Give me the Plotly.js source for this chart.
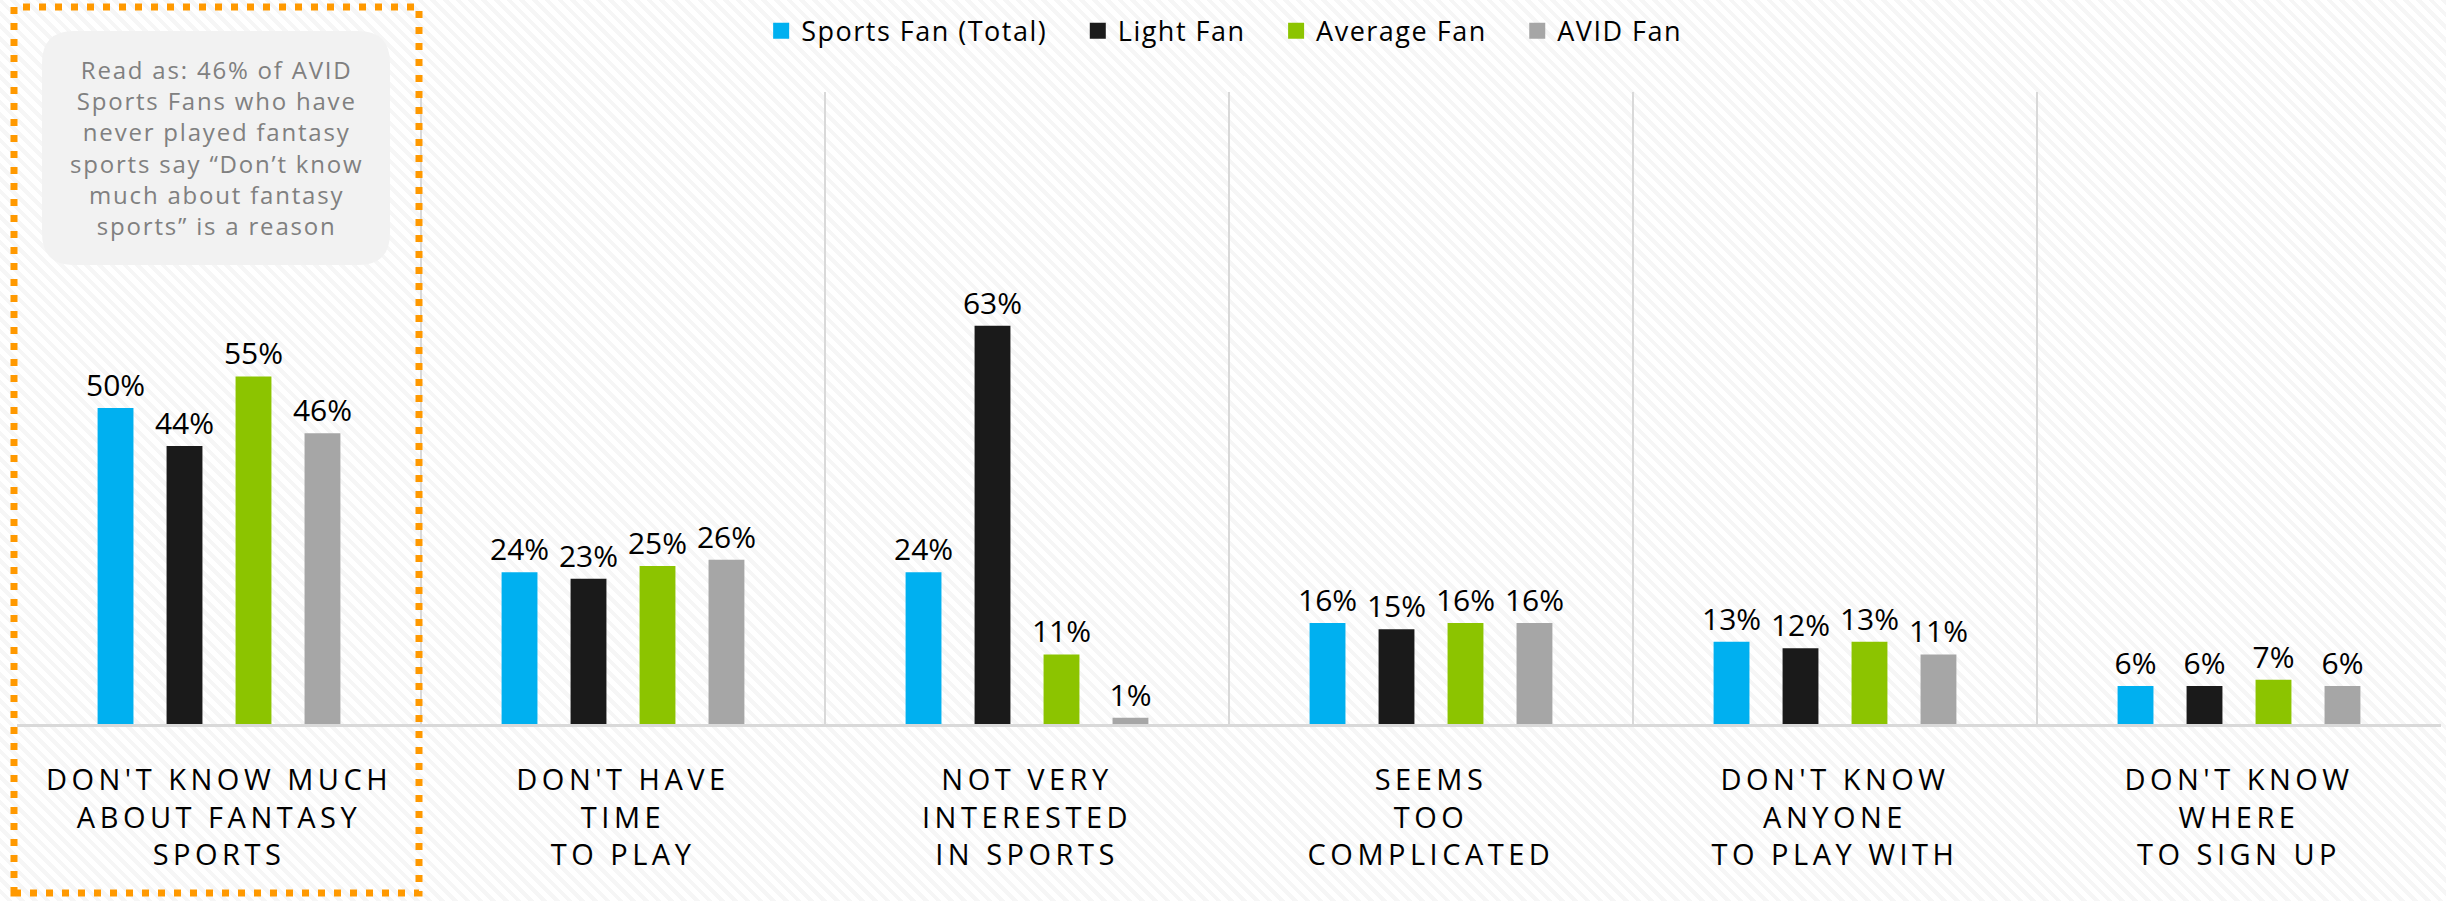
<!DOCTYPE html>
<html>
<head>
<meta charset="utf-8">
<script src="https://cdn.plot.ly/plotly-3.0.1.min.js"></script>
<style>
  html, body { margin: 0; padding: 0; }
  body {
    width: 2446px; height: 901px;
    background: repeating-linear-gradient(45deg, #ffffff 0px, #ffffff 5px, #f6f6f6 5px, #f6f6f6 9px);
  }
  .xtick text { letter-spacing: 4.5px; }
  .legendtext { letter-spacing: 1.5px; }
  .annotation-text { letter-spacing: 1.8px; }
</style>
</head>
<body>
<div id="chart"></div>
<script>
var categories = [
  "DON'T KNOW MUCH<br>ABOUT FANTASY<br>SPORTS",
  "DON'T HAVE<br>TIME<br>TO PLAY",
  "NOT VERY<br>INTERESTED<br>IN SPORTS",
  "SEEMS<br>TOO<br>COMPLICATED",
  "DON'T KNOW<br>ANYONE<br>TO PLAY WITH",
  "DON'T KNOW<br>WHERE<br>TO SIGN UP"
]
var seriesNames = ['Sports Fan (Total)', 'Light Fan', 'Average Fan', 'AVID Fan']
var totalFan = [50, 24, 24, 16, 13, 6]
var lightFan = [44, 23, 63, 15, 12, 6]
var averageFan = [55, 25, 11, 16, 13, 7]
var avidFan = [46, 26, 1, 16, 11, 6]
var colors = ['#00b0f0', '#1a1a1a', '#8cc400', '#a6a6a6']

var seriesValues = [totalFan, lightFan, averageFan, avidFan]

// plot area in pixels, used to place the note box and dotted frame
var L = 17, R = 2441, T = 92, B = 724
function px(x) { return (x - L) / (R - L) }
function py(y) { return (B - y) / (B - T) }

var data = []
for (var i = 0; i < seriesValues.length; i++) {
  data.push({
    type: 'bar',
    x: categories,
    y: seriesValues[i],
    name: seriesNames[i],
    showlegend: false,
    marker: {color: colors[i]},
    text: seriesValues[i].map(function (v) { return v + '%' }),
    textposition: 'outside',
    constraintext: 'none',
    cliponaxis: false,
    textfont: {family: 'Open Sans, sans-serif', size: 30, color: '#000'},
    hoverinfo: 'skip'
  })
}
// legend keys (bigger squares than the bar legend gives)
var pad = '\u00a0\u00a0\u00a0'
for (var j = 0; j < seriesNames.length; j++) {
  data.push({
    type: 'scatter', mode: 'markers',
    x: [null], y: [null],
    name: seriesNames[j] + (j < seriesNames.length - 1 ? pad : ''),
    marker: {symbol: 'square', size: 20, color: colors[j]},
    hoverinfo: 'skip'
  })
}

// rounded note box
function roundRect(x0, y0, x1, y1, r) {
  var p = 'M' + px(x0 + r) + ',' + py(y0)
  p += ' L' + px(x1 - r) + ',' + py(y0)
  p += ' Q' + px(x1) + ',' + py(y0) + ' ' + px(x1) + ',' + py(y0 + r)
  p += ' L' + px(x1) + ',' + py(y1 - r)
  p += ' Q' + px(x1) + ',' + py(y1) + ' ' + px(x1 - r) + ',' + py(y1)
  p += ' L' + px(x0 + r) + ',' + py(y1)
  p += ' Q' + px(x0) + ',' + py(y1) + ' ' + px(x0) + ',' + py(y1 - r)
  p += ' L' + px(x0) + ',' + py(y0 + r)
  p += ' Q' + px(x0) + ',' + py(y0) + ' ' + px(x0 + r) + ',' + py(y0) + ' Z'
  return p
}

var layout = {
  width: 2446,
  height: 901,
  margin: {l: L, r: 2446 - R, t: T, b: 901 - B},
  paper_bgcolor: 'rgba(0,0,0,0)',
  plot_bgcolor: 'rgba(0,0,0,0)',
  font: {family: 'Open Sans, sans-serif', color: '#000'},
  bargap: 0.317,
  bargroupgap: 0.48,
  barmode: 'group',
  showlegend: true,
  legend: {
    orientation: 'h',
    x: 0.498, xanchor: 'center',
    y: 1.135, yanchor: 'top',
    font: {size: 27, color: '#000'},
    bgcolor: 'rgba(0,0,0,0)'
  },
  xaxis: {
    type: 'category',
    showgrid: true,
    gridcolor: '#d9d9d9',
    gridwidth: 2,
    tickson: 'boundaries',
    ticks: '',
    showline: true,
    linecolor: '#d9d9d9',
    linewidth: 3,
    ticklabelstandoff: 28,
    tickfont: {family: 'Open Sans, sans-serif', size: 29, color: '#000'},
    fixedrange: true
  },
  yaxis: {
    range: [0, 100],
    showgrid: false,
    zeroline: false,
    showticklabels: false,
    showline: false,
    fixedrange: true
  },
  shapes: [
    {
      type: 'path', xref: 'paper', yref: 'paper',
      path: roundRect(42, 31, 390, 265, 32),
      fillcolor: '#f2f2f2',
      line: {width: 0},
      layer: 'below'
    },
    {
      type: 'rect', xref: 'paper', yref: 'paper',
      x0: px(14), x1: px(419), y0: py(893), y1: py(7),
      line: {color: '#ff9900', width: 7, dash: '7px,9px'},
      fillcolor: 'rgba(0,0,0,0)'
    }
  ],
  annotations: [
    {
      xref: 'paper', yref: 'paper',
      x: px(216), y: py(147),
      xanchor: 'center', yanchor: 'middle',
      showarrow: false,
      align: 'center',
      text: 'Read as: 46% of AVID<br>Sports Fans who have<br>never played fantasy<br>sports say \u201cDon\u2019t know<br>much about fantasy<br>sports\u201d is a reason',
      font: {family: 'Open Sans, sans-serif', size: 24, color: '#808080'}
    }
  ]
}

Plotly.newPlot('chart', data, layout, {displayModeBar: false, staticPlot: true})
</script>
</body>
</html>
